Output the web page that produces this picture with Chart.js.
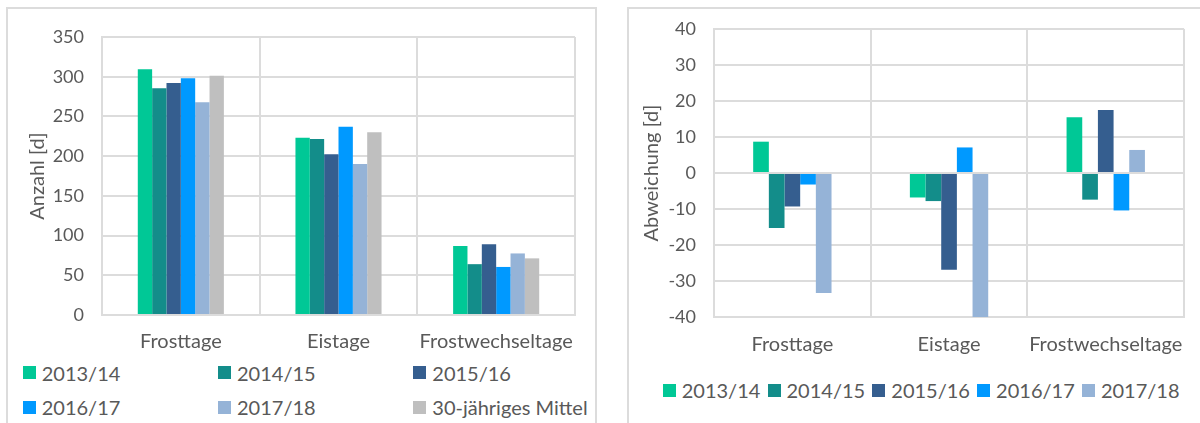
<!DOCTYPE html>
<html><head><meta charset="utf-8">
<script src="https://cdn.jsdelivr.net/npm/chart.js@4.4.1/dist/chart.umd.min.js"></script>
<style>
html,body{margin:0;padding:0;background:#fff;width:1200px;height:423px;overflow:hidden;font-family:Lato,sans-serif;color:#595959}
.frame{position:absolute;border:2px solid #dcdcdc;box-sizing:border-box}
canvas{position:absolute}
.lg{position:absolute;display:flex;align-items:center;height:24px;font-size:20px;line-height:24px;white-space:nowrap}
.lg i{display:inline-block;width:13px;height:13px;margin-right:6px;flex:none}
</style></head><body>
<div class="frame" style="left:6px;top:7px;width:591px;height:440px"></div>
<div class="frame" style="left:627px;top:7px;width:600px;height:440px"></div>
<canvas id="c1" width="600" height="360" style="left:0;top:0"></canvas>
<canvas id="c2" width="600" height="365" style="left:600px;top:0"></canvas>
<div id="leg1"></div><div id="leg2"></div>
<script>
// ---- data ----
const categories = ['Frosttage', 'Eistage', 'Frostwechseltage'];
const seasons = ['2013/14', '2014/15', '2015/16', '2016/17', '2017/18'];
const meanLabel = '30-jähriges Mittel';

// Anzahl [d]
const anzahl_2013_14 = [309.5, 223, 87];
const anzahl_2014_15 = [285.5, 221.5, 64];
const anzahl_2015_16 = [292, 202.5, 89];
const anzahl_2016_17 = [298, 237, 60.5];
const anzahl_2017_18 = [268, 190, 77.5];
const mittel_30j     = [301.3, 230, 71.3];

// Abweichung [d]
const abw_2013_14 = [8.7, -6.8, 15.5];
const abw_2014_15 = [-15.3, -7.8, -7.4];
const abw_2015_16 = [-9.3, -26.9, 17.5];
const abw_2016_17 = [-3.2, 7.1, -10.4];
const abw_2017_18 = [-33.3, -40, 6.4];

const leftTicks = {min: 0, max: 350, step: 50};
const rightTicks = {min: -40, max: 40, step: 10};

const colors = ['#00C896', '#138D8A', '#355E8F', '#0099FF', '#95B3D7', '#BFBFBF'];
const textColor = '#595959';
const gridColor = '#dcdcdc';

Chart.defaults.font.family = 'Lato, sans-serif';
Chart.defaults.color = textColor;

function makeChart(id, series, labels, t, o) {
  return new Chart(document.getElementById(id), {
    type: 'bar',
    data: {
      labels: categories,
      datasets: series.map((d, i) => ({label: labels[i], data: d, backgroundColor: colors[i], borderWidth: 0}))
    },
    options: {
      responsive: false, animation: false,
      layout: {padding: {left: 0, top: o.top, right: o.right, bottom: 0}},
      plugins: {legend: {display: false}, tooltip: {enabled: false}},
      datasets: {bar: {categoryPercentage: o.cat, barPercentage: 1}},
      scales: {
        x: {
          grid: {color: gridColor, lineWidth: 2, drawTicks: false, offset: true},
          border: {color: gridColor, width: 2},
          ticks: {padding: o.xpad, font: {size: 20}, color: textColor, maxRotation: 0, autoSkip: false},
          afterFit(s) { s.height = o.xh; }
        },
        y: {
          min: t.min, max: t.max,
          grid: {color: gridColor, lineWidth: 2, drawTicks: false},
          border: {color: gridColor, width: 2},
          ticks: {stepSize: t.step, padding: 18, font: {size: 18}, color: textColor},
          title: {display: true, text: o.title, font: {size: 20}, color: textColor, padding: {top: o.tpad, bottom: 0}},
          afterFit(s) { s.width = o.yw; }
        }
      }
    }
  });
}

makeChart('c1', [anzahl_2013_14, anzahl_2014_15, anzahl_2015_16, anzahl_2016_17, anzahl_2017_18, mittel_30j],
  seasons.concat([meanLabel]), leftTicks,
  {top: 37, right: 25, yw: 102, xh: 45, cat: 0.546, xpad: 15, title: 'Anzahl [d]', tpad: 25.3});

makeChart('c2', [abw_2013_14, abw_2014_15, abw_2015_16, abw_2016_17, abw_2017_18],
  seasons, rightTicks,
  {top: 29, right: 10, yw: 114, xh: 48, cat: 0.5, xpad: 16, title: 'Abweichung [d]', tpad: 40});

// ---- HTML legends ----
function addItem(parent, label, color, x, yc) {
  const d = document.createElement('div');
  d.className = 'lg';
  d.style.left = x + 'px';
  d.style.top = (yc - 12) + 'px';
  const b = document.createElement('i');
  b.style.background = color;
  d.appendChild(b);
  d.appendChild(document.createTextNode(label));
  parent.appendChild(d);
}
const leg1 = document.getElementById('leg1');
seasons.concat([meanLabel]).forEach((s, i) => {
  addItem(leg1, s, colors[i], 22.7 + (i % 3) * 195.3, 372.5 + Math.floor(i / 3) * 34.5);
});
const leg2 = document.getElementById('leg2');
seasons.forEach((s, i) => {
  addItem(leg2, s, colors[i], 662.7 + i * 104.8, 390);
});
</script>
</body></html>
